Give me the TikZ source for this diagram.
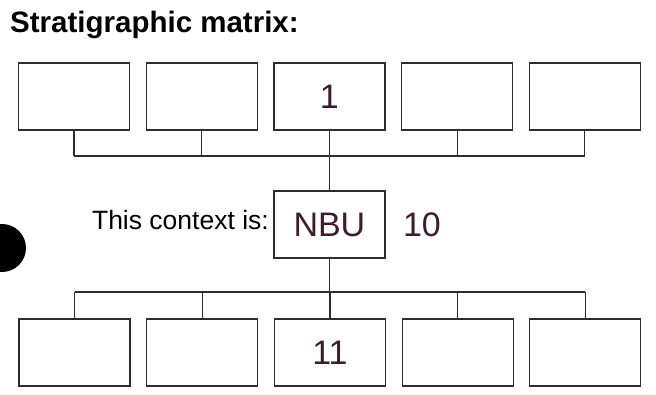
\documentclass[tikz,border=0pt]{standalone}
\usepackage{fontspec}
\setmainfont{Liberation Sans}
\usetikzlibrary{positioning}
\definecolor{inkc}{RGB}{62,28,44}
\definecolor{linec}{RGB}{45,45,45}

\begin{document}
\begin{tikzpicture}[x=1pt,y=-1pt, cell/.style={rectangle,draw=linec,line width=1.2pt,minimum width=111pt,minimum height=67pt,inner sep=0pt}, ink/.style={text=inkc,font=\fontsize{34}{34}\selectfont}, wire/.style={draw=linec,line width=1.2pt}]
  \useasboundingbox (0,0) rectangle (656,395);
  \node[anchor=base west,inner sep=0pt,font=\bfseries\fontsize{29.5}{29.5}\selectfont](title) at (10,33){Stratigraphic matrix:};
  % upper row
  \node[cell](t1) at (74,96.5){};
  \node[cell,right=15.5pt of t1](t2){};
  \node[cell,right=15.5pt of t2](t3){};
  \node[cell,right=15.5pt of t3](t4){};
  \node[cell,right=15.5pt of t4](t5){};
  % this context
  \node[cell](mid) at (t3|-0,224.5){};
  \node[anchor=base east,inner sep=0pt,font=\fontsize{26.5}{26.5}\selectfont](lbl) at (269,230){This context is:};
  % lower row
  \node[cell](b1) at (74.5,352.5){};
  \node[cell,right=15.5pt of b1](b2){};
  \node[cell,right=15.5pt of b2](b3){};
  \node[cell,right=15.5pt of b3](b4){};
  \node[cell,right=15.5pt of b4](b5){};
  \coordinate (up) at (mid.north|-0,156);
  \coordinate (dn) at (mid.south|-0,292);
  \foreach \x in {t1,t2,t3,t4,t5}{\draw[wire](\x.south)--(\x.south|-up);}
  \foreach \x in {b1,b2,b3,b4,b5}{\draw[wire](\x.north)--(\x.north|-dn);}
  \draw[wire](t1.south|-up)--(t5.south|-up);
  \draw[wire](b1.north|-dn)--(b5.north|-dn);
  \draw[wire](up)--(mid.north);
  \draw[wire](mid.south)--(dn);
  % handwriting
  \node[ink](h1) at (t3){1};
  \node[ink](h2) at (mid){NBU};
  \node[ink,right=14pt of mid](h3){10};
  \node[ink](h4) at (b3){11};
  \fill[black](2,248) circle (24);
\end{tikzpicture}
\end{document}
